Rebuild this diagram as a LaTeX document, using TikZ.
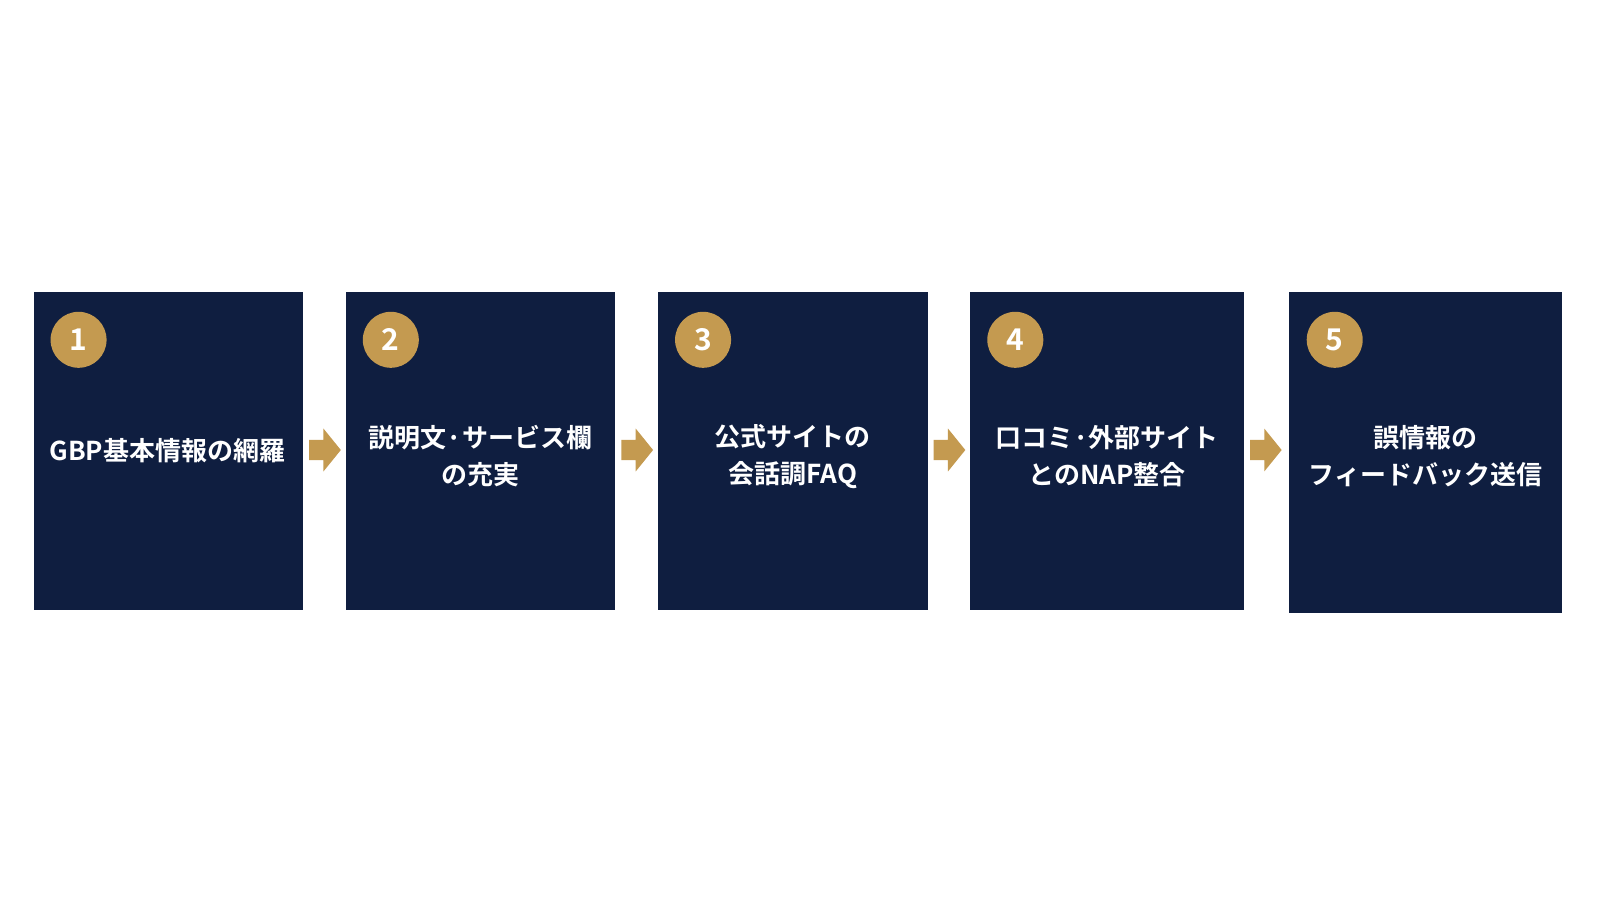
\documentclass[tikz,border=0pt]{standalone}
\usepackage{fontspec}
\newfontfamily\cjk{Noto Sans CJK JP}[BoldFont={* Bold}]
\definecolor{navy}{HTML}{0F1E40}
\definecolor{gold}{HTML}{C49A50}
\begin{document}
\begin{tikzpicture}[x=0.5102pt,y=-0.5102pt,
  stepbox/.style={fill=navy,draw=none},
  badge/.style={circle,fill=gold,minimum size=28pt,inner sep=0pt,text=white,font=\cjk\bfseries\fontsize{15}{15}\selectfont},
  label/.style={text=white,align=center,font=\cjk\bfseries\fontsize{13}{18.5}\selectfont},
  blockarrow/.style={fill=gold,draw=none}]
\useasboundingbox[fill=white] (0,0) rectangle (1568,882);
% boxes
\path[stepbox] (33,286) rectangle (297,598);
\path[stepbox] (339,286) rectangle (603,598);
\path[stepbox] (645,286) rectangle (909,598);
\path[stepbox] (951,286) rectangle (1219,598);
\path[stepbox] (1263,286) rectangle (1531,601);
% badges
\node[badge] (c1) at (77,333) {1};
\node[badge] (c2) at (383,333) {2};
\node[badge] (c3) at (689,333) {3};
\node[badge] (c4) at (995,333) {4};
\node[badge] (c5) at (1308,333) {5};
% labels
\node[label] (t1) at (164,442) {GBP基本情報の網羅};
\node[label] (t2) at (471,447) {説明文·サービス欄\\の充実};
\node[label] (t3) at (777,447) {公式サイトの\\会話調FAQ};
\node[label] (t4) at (1085,447) {口コミ·外部サイト\\とのNAP整合};
\node[label] (t5) at (1397,447) {誤情報の\\フィードバック送信};
% arrows
\foreach \x in {303,609,915,1225}{
  \path[blockarrow] (\x,431) -- (\x+14,431) -- (\x+14,420) -- (\x+31,441) -- (\x+14,462) -- (\x+14,451) -- (\x,451) -- cycle;
}
\end{tikzpicture}
\end{document}
